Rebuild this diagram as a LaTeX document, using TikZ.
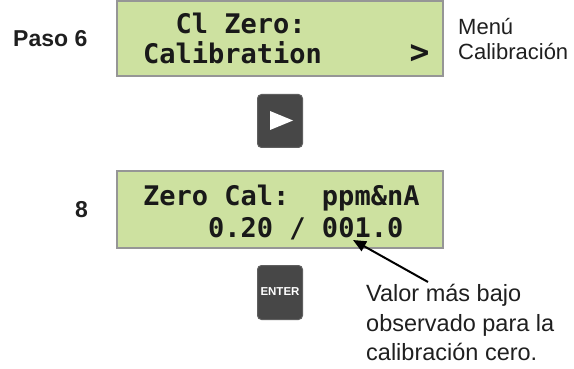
\documentclass[tikz,border=0pt]{standalone}
\usepackage{fontspec}
\setmainfont{Liberation Sans}
\newfontfamily\lcdfont{DejaVu Sans Mono}[BoldFont={DejaVu Sans Mono Bold}]
\usetikzlibrary{arrows.meta}
\definecolor{lcdgreen}{RGB}{205,225,160}
\definecolor{lcdframe}{RGB}{150,150,150}
\definecolor{lcdink}{RGB}{25,25,25}
\definecolor{keyfill}{RGB}{71,71,71}
\definecolor{keyedge}{RGB}{95,95,95}
\tikzset{
  lcdbox/.style={draw=lcdframe, line width=2.5pt, fill=lcdgreen},
  lcdline/.style={anchor=base west, inner sep=0pt, text=lcdink,
    font=\lcdfont\bfseries\fontsize{27}{27}\selectfont},
  keybox/.style={draw=keyedge, line width=1pt, fill=keyfill, rounded corners=4pt},
  steplabel/.style={inner sep=0pt, font=\bfseries\fontsize{23}{23}\selectfont, text=black!88},
  sidetext/.style={anchor=base west, inner sep=0pt, font=\fontsize{22}{22}\selectfont, text=black!88},
  notetext/.style={anchor=base west, inner sep=0pt, font=\fontsize{23.5}{23.5}\selectfont, text=black!88},
  pointer/.style={line width=2pt, -{Triangle[length=13pt,width=11pt]}}
}
\begin{document}
\begin{tikzpicture}[x=1pt,y=-1pt]
\useasboundingbox (0,0) rectangle (574,369);

% display of step 6
\draw[lcdbox] (117,1.2) rectangle (443,76);
\node[lcdline] (s6l1) at (143,34) {~~Cl Zero:};
\node[lcdline] (s6l2) at (143,64) {Calibration};
\node[lcdline, anchor=base, font=\lcdfont\bfseries\fontsize{33}{33}\selectfont] (s6more) at (419.5,64) {>};
\node[steplabel, anchor=base west] (paso) at (13,47) {Paso 6};
\node[sidetext] (menu1) at (458,35) {Menú};
\node[sidetext] (menu2) at (458,60) {Calibración};

% right arrow key
\draw[keybox] (257.5,94.5) rectangle (302.5,147.5);
\fill[white] (270,111) -- (293,120.5) -- (270,130) -- cycle;

% display of step 8
\draw[lcdbox] (117,171) rectangle (443,248);
\node[lcdline] (s8l1) at (143,205) {Zero Cal:~~ppm\&nA};
\node[lcdline] (s8l2) at (143,237) {~~~~0.20 / 001.0};
\node[steplabel, anchor=base] (eight) at (81.5,218) {8};

% enter key
\draw[keybox] (257.5,265.5) rectangle (302.5,319.5);
\node[inner sep=0pt, text=white, font=\bfseries\fontsize{11.5}{11.5}\selectfont] (enter) at (280,292) {ENTER};

% note with pointer to the lowest reading
\node[notetext] (note1) at (366,301) {Valor más bajo};
\node[notetext] (note2) at (366,331) {observado para la};
\node[notetext] (note3) at (366,360) {calibración cero.};
\coordinate (from) at (428,282);
\coordinate (tip) at (353,240);
\draw[pointer] (from) -- (tip);
\end{tikzpicture}
\end{document}
